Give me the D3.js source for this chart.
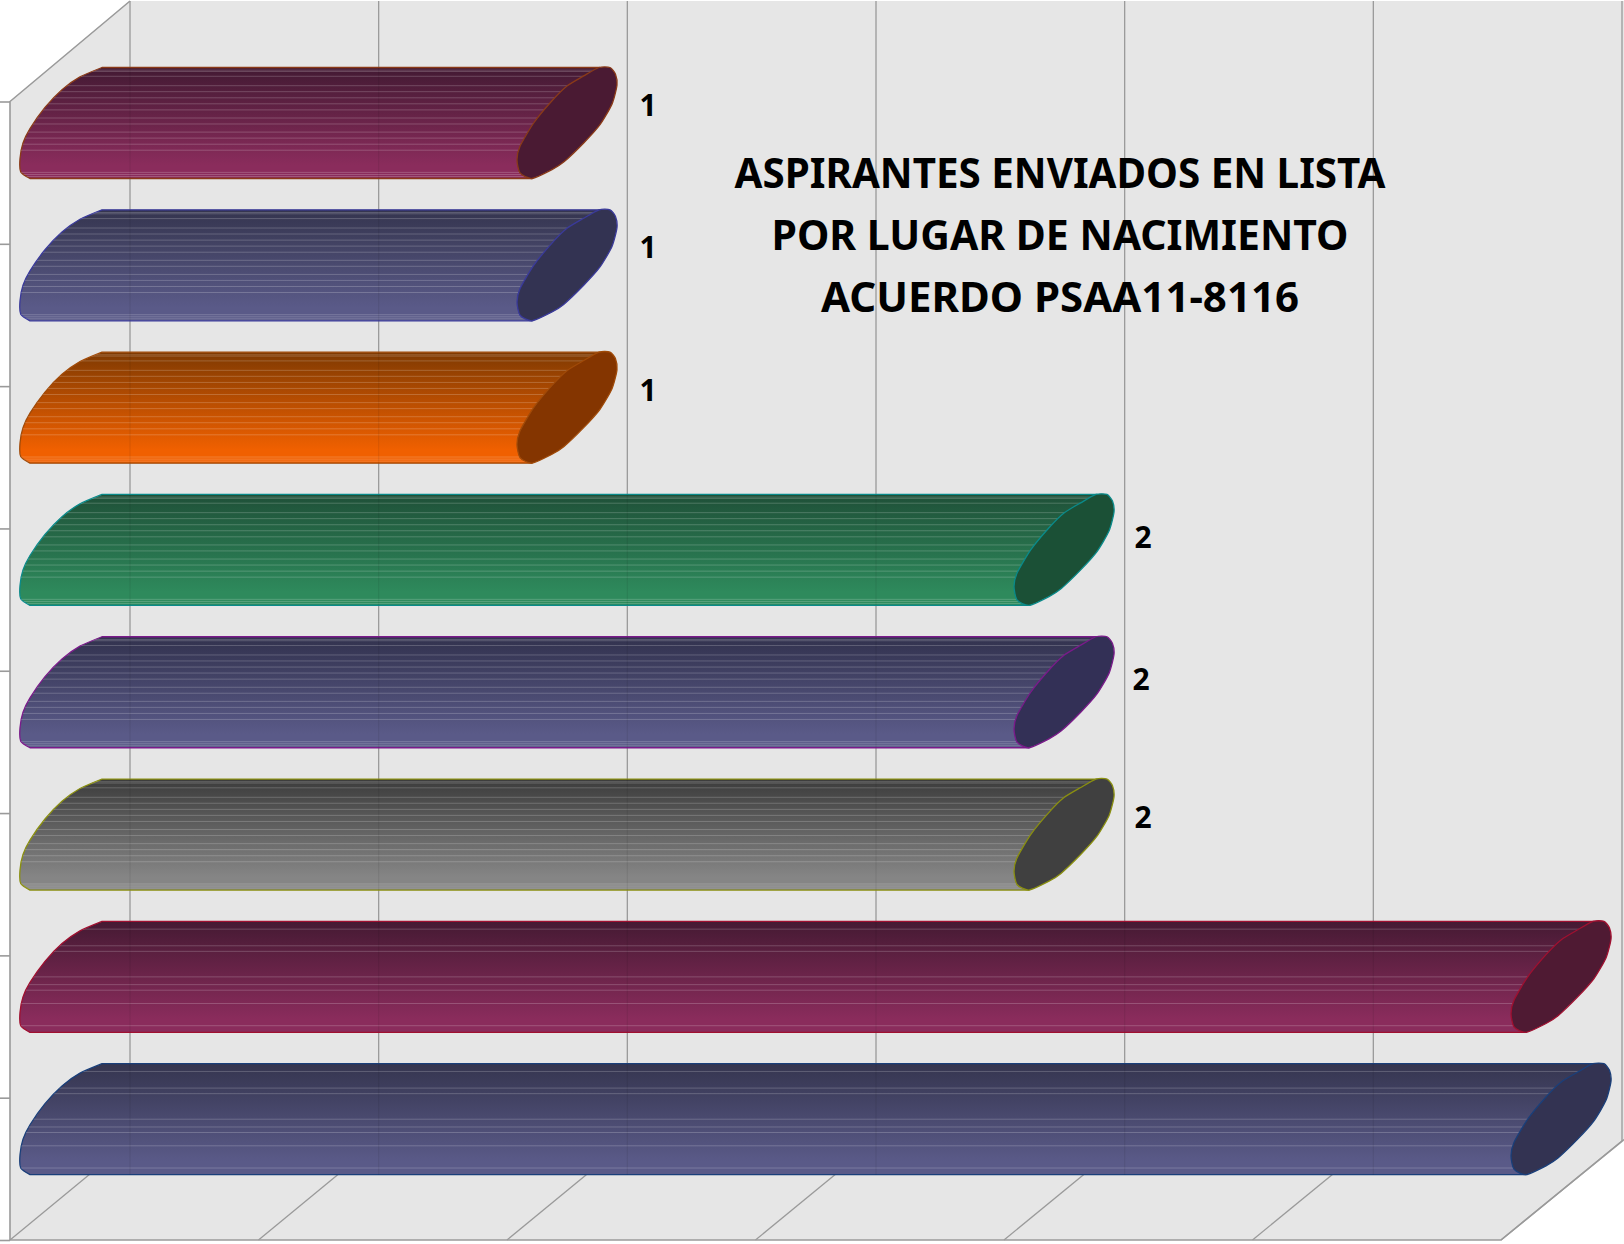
<!DOCTYPE html>
<html>
<head>
<meta charset="utf-8">
<script src="https://cdn.jsdelivr.net/npm/d3@7"></script>
<style>
  html, body { margin: 0; background: #fff; }
  svg { display: block; }
  text { font-family: "Noto Sans", sans-serif; font-weight: 700; fill: #000; }
</style>
</head>
<body>
<svg id="chart" width="1624" height="1244"></svg>
<script>
// datos (de arriba hacia abajo)
const barIds = ["a", "b", "c", "d", "e", "f", "g", "h"];
const barValues = [1, 1, 1, 2, 2, 2, 3, 3];
const labelTexts = ["1", "1", "1", "2", "2", "2", "", ""];
const xTicks = [0, 0.5, 1, 1.5, 2, 2.5, 3];
const titleLines = ["ASPIRANTES ENVIADOS EN LISTA", "POR LUGAR DE NACIMIENTO", "ACUERDO PSAA11-8116"];

// colores de cada barra
const topColors = ["#431a33", "#35354f", "#7f3a02", "#1f5038", "#32324e", "#3c3c3c", "#451a33", "#35354f"];
const bottomColors = ["#8a2c5c", "#5a5a88", "#f06000", "#2e8a5c", "#5a5a88", "#858585", "#8a2c5c", "#5a5a88"];
const capColors = ["#4a1a33", "#333352", "#843500", "#1b5036", "#333056", "#404040", "#4f1a33", "#333352"];
const edgeColors = ["#8a3a18", "#3a3a9a", "#a04a08", "#0a8a8a", "#7a1a8a", "#8a8f10", "#a01030", "#1a3f7a"];

// rayas claras, fraccion de la altura de la barra
const denseStripes = [0.024, 0.036, 0.079, 0.164, 0.218, 0.273, 0.327, 0.382, 0.455, 0.509, 0.582, 0.636, 0.691, 0.745, 0.945, 0.964, 0.982];
const sparseStripes = [0.07, 0.22, 0.27, 0.5, 0.57, 0.62, 0.74, 0.94];

// contorno del extremo del cilindro (u, v en 0..1)
const capOutline = [
  [0.82, 0], [0.93, 0], [0.985, 0.06], [1, 0.16], [0.95, 0.33], [0.83, 0.515], [0.667, 0.68], [0.47, 0.85], [0.35, 0.92],
  [0.15, 1], [0.03, 0.95], [0, 0.83], [0.03, 0.71], [0.167, 0.5], [0.35, 0.3], [0.5, 0.167], [0.667, 0.076]
];
// lado izquierdo del cuerpo
const leftSide = [[0.10, 1], [0.007, 0.94], [0, 0.82], [0.03, 0.68], [0.10, 0.55], [0.25, 0.36], [0.42, 0.20], [0.60, 0.085], [0.82, 0]];

// ajuste de cada etiqueta
const labelNudgeX = [4, 4, 4, 2, 0, 2, 0, 0];
const labelNudgeY = [-6, -6, -6, -1, -1, -5, 0, 0];

const svg = d3.select("#chart");
const defs = svg.append("defs");

// geometria del grafico 3D
const front = {left: 10, right: 1501, top: 101.5, bottom: 1240};
const back = {left: 130, right: 1622, top: 1, bottom: 1141};
const capW = 100, barH = 111, barRise = 34, barInset = 25;

const xFront = d3.scaleLinear().domain([0, 3]).range([front.left, front.right]);
const xBack = d3.scaleLinear().domain([0, 3]).range([back.left, back.right]);
const yBand = d3.scaleBand().domain(barIds).range([front.top, front.bottom]);
const yTicks = d3.scaleLinear().domain([0, barIds.length]).range([front.top, front.bottom]);

// paredes
const wallLine = "#9a9a9a";
svg.append("path")
  .attr("d", d3.line()([
    [front.left, front.top], [back.left, back.top], [1624, back.top], [1624, back.bottom],
    [front.right, front.bottom], [front.left, front.bottom]
  ]) + "Z")
  .attr("fill", "#e6e6e6");

// rejilla
svg.append("g").selectAll("line")
  .data(xTicks)
  .join("line")
  .attr("x1", d => xBack(d)).attr("x2", d => xBack(d))
  .attr("y1", back.top).attr("y2", back.bottom)
  .attr("stroke", wallLine).attr("stroke-width", 1.3);

svg.append("g").selectAll("line")
  .data(xTicks)
  .join("line")
  .attr("x1", d => xFront(d)).attr("y1", front.bottom)
  .attr("x2", d => xBack(d)).attr("y2", back.bottom)
  .attr("stroke", wallLine).attr("stroke-width", 1.3);

// bordes exteriores
svg.append("path")
  .attr("d", d3.line()([
    [back.left, back.top], [front.left, front.top], [front.left, front.bottom], [front.right, front.bottom], [1624, 1139.5]
  ]))
  .attr("fill", "none").attr("stroke", wallLine).attr("stroke-width", 1.6);

// marcas del eje vertical
svg.append("g")
  .attr("transform", `translate(${front.left},0)`)
  .call(d3.axisLeft(yTicks).ticks(barIds.length).tickSize(10).tickSizeOuter(0).tickFormat(""))
  .call(g => g.select(".domain").remove())
  .call(g => g.selectAll("line").attr("stroke", wallLine).attr("stroke-width", 1.6));

const blob = d3.line().curve(d3.curveCardinalClosed.tension(0.35));
const open = d3.line().curve(d3.curveCardinal.tension(0.35));

// barras
const bars = svg.append("g").selectAll("g")
  .data(barIds)
  .join("g")
  .attr("class", "bar");

bars.each(function (id, i) {
  const g = d3.select(this);
  const x0 = xFront(0) + barInset - 0.15 * capW;
  const x1 = xFront(barValues[i]) + barInset - 0.15 * capW;
  const top = yBand(id) - barRise;
  const px = (x, p) => [x + p[0] * capW, top + p[1] * barH];

  const grad = defs.append("linearGradient")
    .attr("id", "grad-" + id)
    .attr("x1", 0).attr("y1", 0).attr("x2", 0).attr("y2", 1);
  grad.append("stop").attr("offset", "0%").attr("stop-color", topColors[i]);
  grad.append("stop").attr("offset", "88%").attr("stop-color", bottomColors[i]);
  grad.append("stop").attr("offset", "100%").attr("stop-color", bottomColors[i]);

  // cuerpo: lado izquierdo redondeado + recta hasta el extremo
  const leftPath = open(leftSide.map(p => px(x0, p)));
  const bodyPath = leftPath + "L" + px(x1, capOutline[0]) + "L" + px(x1, capOutline[9]) + "Z";

  defs.append("clipPath").attr("id", "clip-" + id)
    .append("path").attr("d", bodyPath);

  g.append("path")
    .attr("d", bodyPath)
    .attr("fill", `url(#grad-${id})`)
    .attr("stroke", edgeColors[i])
    .attr("stroke-width", 1.3);

  const inside = g.append("g").attr("clip-path", `url(#clip-${id})`);

  inside.append("g").selectAll("line")
    .data(barValues[i] < 3 ? denseStripes : sparseStripes)
    .join("line")
    .attr("x1", x0).attr("x2", x1 + capW)
    .attr("y1", d => top + d * barH).attr("y2", d => top + d * barH)
    .attr("stroke", "#fff").attr("stroke-opacity", 0.2).attr("stroke-width", 1);

  // la rejilla se transparenta a traves de la barra
  inside.append("g").selectAll("line")
    .data(xTicks)
    .join("line")
    .attr("x1", d => xBack(d)).attr("x2", d => xBack(d))
    .attr("y1", top).attr("y2", top + barH)
    .attr("stroke", "#000").attr("stroke-opacity", 0.07).attr("stroke-width", 1.3);

  g.append("path")
    .attr("d", blob(capOutline.map(p => px(x1, p))))
    .attr("fill", capColors[i])
    .attr("stroke", edgeColors[i])
    .attr("stroke-width", 1.3);

  // etiqueta
  g.append("text")
    .attr("x", x1 + capW + 27 + labelNudgeX[i])
    .attr("y", top + 0.49 * barH + labelNudgeY[i])
    .attr("text-anchor", "middle")
    .attr("font-size", 30)
    .text(labelTexts[i]);
});

// titulo
const titleWidths = [651, 577, 478];
const titleY = d3.scaleLinear().domain([0, 2]).range([188, 312]);
svg.append("g").selectAll("text")
  .data(titleLines)
  .join("text")
  .attr("x", 1060)
  .attr("y", (d, i) => titleY(i))
  .attr("text-anchor", "middle")
  .attr("font-size", 41)
  .attr("textLength", (d, i) => titleWidths[i])
  .attr("lengthAdjust", "spacingAndGlyphs")
  .text(d => d);
</script>
</body>
</html>
